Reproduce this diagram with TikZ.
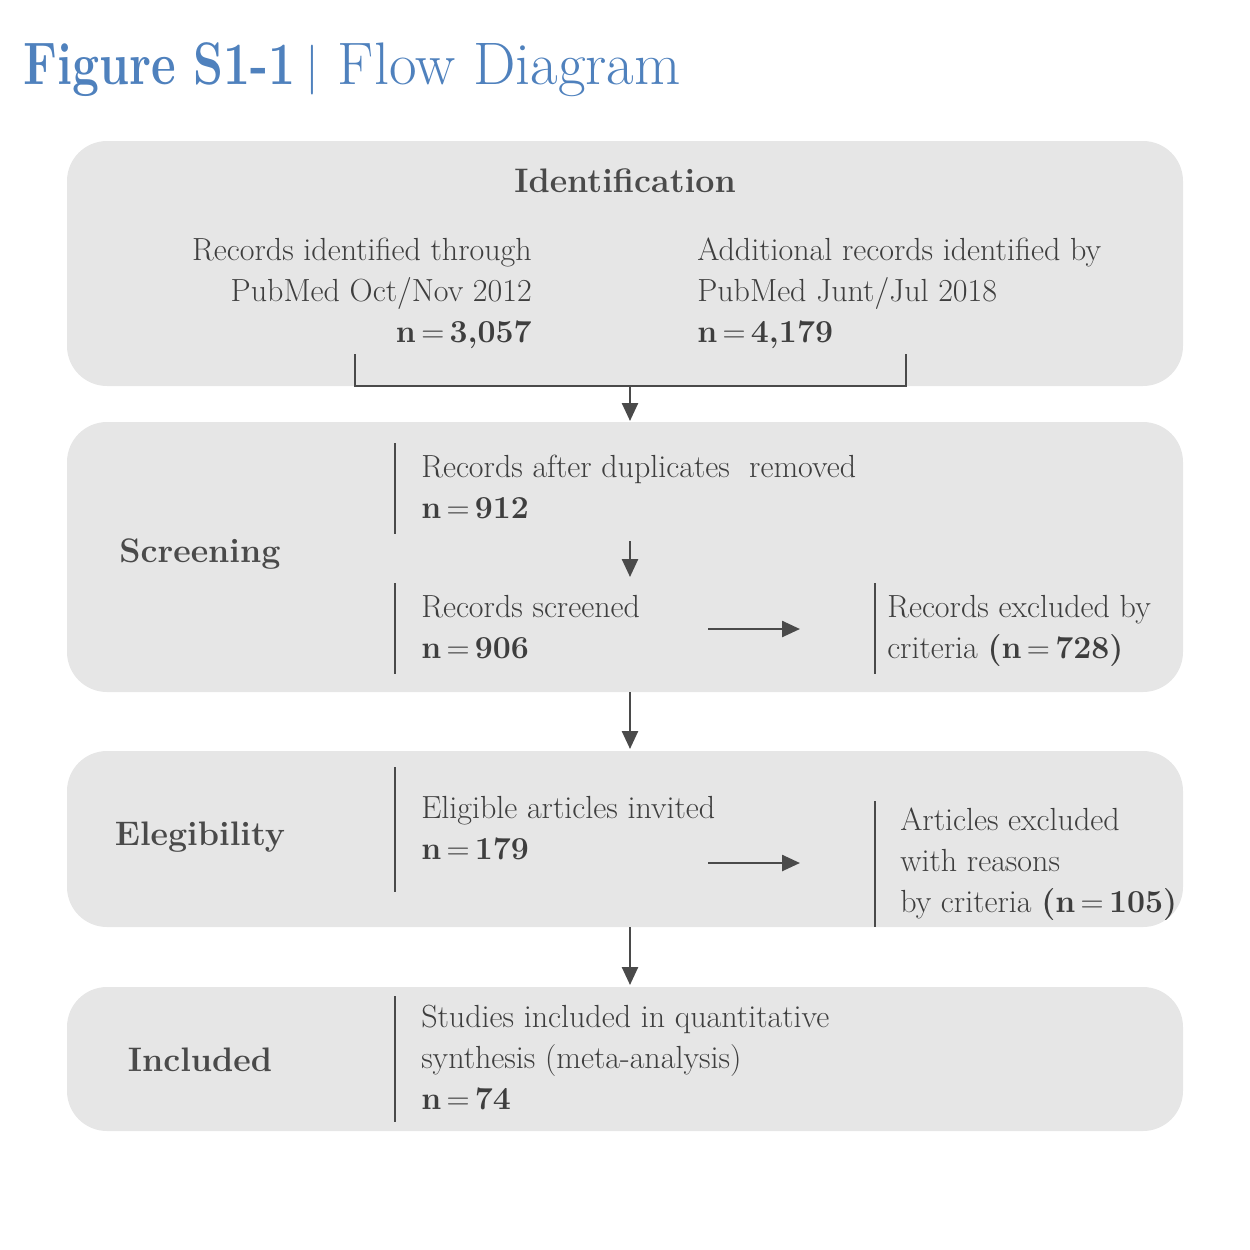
\documentclass[tikz,border=0pt]{standalone}
\usetikzlibrary{arrows.meta}
\definecolor{titleblue}{RGB}{79,129,189}
\definecolor{boxgray}{RGB}{230,230,230}
\definecolor{inkgray}{RGB}{74,74,74}
\definecolor{textgray}{RGB}{62,62,62}
\tikzset{every picture/.style={line width=1.25pt}}

\begin{document}
\begin{tikzpicture}[x=0.5pt,y=0.5pt,yscale=-1,xscale=1,
  stage/.style={fill=boxgray,rounded corners=20pt},
  stagename/.style={font=\fontsize{17}{20}\selectfont\bfseries,text=inkgray},
  entry/.style={font=\fontsize{16}{20.5}\selectfont,text=textgray,inner sep=0pt,align=left},
  flow/.style={draw=inkgray,-{Triangle[length=9pt,width=8pt]}},
  rule/.style={draw=inkgray}]
\useasboundingbox (0,0) rectangle (1250,1250);

%Shape: Rounded Rect [id:identification]
\path[stage] (67,141) rectangle (1183,386);
%Shape: Rounded Rect [id:screening]
\path[stage] (67,422) rectangle (1183,692);
%Shape: Rounded Rect [id:eligibility]
\path[stage] (67,751) rectangle (1183,927);
%Shape: Rounded Rect [id:included]
\path[stage] (67,987) rectangle (1183,1131);

% Title
\node[anchor=base west,inner sep=0pt,text=titleblue,font=\fontsize{30}{34}\selectfont] (title) at (22,84) {\scalebox{0.8}[1]{\bfseries Figure S1-1}\,\raisebox{1pt}{$|$}\ Flow Diagram};

% Text Node
\node[stagename] (identhead) at (625,181) {Identification};
% Text Node
\node[stagename] (screenhead) at (200,554) {Screening};
% Text Node
\node[stagename] (eligiblehead) at (200,837) {Elegibility};
% Text Node
\node[stagename] (includedhead) at (200,1060) {Included};

% Text Node
\node[entry,anchor=north east,align=right] (pubmedA) at (533,237) {Records identified through\\PubMed Oct/Nov 2012\\\textbf{n}\,=\,\textbf{3,057}};
% Text Node
\node[entry,anchor=north west] (pubmedB) at (696,237) {Additional records identified by\\PubMed Junt/Jul 2018\\\textbf{n}\,=\,\textbf{4,179}};
% Text Node
\node[entry,anchor=north west] (dedup) at (420,454) {Records after duplicates\ \ removed\\\textbf{n}\,=\,\textbf{912}};
% Text Node
\node[entry,anchor=north west] (screened) at (420,594) {Records screened\\\textbf{n}\,=\,\textbf{906}};
% Text Node
\node[entry,anchor=north west] (excluded) at (886,594) {Records excluded by\\criteria \textbf{(n}\,=\,\textbf{728)}};
% Text Node
\node[entry,anchor=north west] (invited) at (420,795) {Eligible articles invited\\\textbf{n}\,=\,\textbf{179}};
% Text Node
\node[entry,anchor=north west] (reasons) at (899,807) {Articles excluded\\with reasons\\by criteria \textbf{(n}\,=\,\textbf{105)}};
% Text Node
\node[entry,anchor=north west] (studies) at (420,1004) {Studies included in quantitative\\synthesis (meta-analysis)\\\textbf{n}\,=\,\textbf{74}};

% Side rules
\draw[rule] (395,443) -- (395,534);
\draw[rule] (395,583) -- (395,674);
\draw[rule] (875,583) -- (875,674);
\draw[rule] (395,767) -- (395,892);
\draw[rule] (875,801) -- (875,927);
\draw[rule] (395,996) -- (395,1122);

% Bracket joining both searches
\coordinate (joinL) at (355,354);
\coordinate (joinR) at (906,354);
\coordinate (join) at (630,386);
\draw[rule] (joinL) -- (joinL |- join) -- (joinR |- join) -- (joinR);

%Arrows
\coordinate (dedupIn) at (630,421);
\coordinate (dupOut) at (630,541);
\coordinate (screenIn) at (630,577);
\coordinate (screenOut) at (630,692);
\coordinate (eligIn) at (630,749);
\coordinate (eligOut) at (630,927);
\coordinate (inclIn) at (630,985);
\coordinate (exclA) at (708,629);
\coordinate (exclAend) at (800,629);
\coordinate (exclB) at (708,863);
\coordinate (exclBend) at (800,863);
\draw[flow] (join) -- (dedupIn);
\draw[flow] (dupOut) -- (screenIn);
\draw[flow] (screenOut) -- (eligIn);
\draw[flow] (eligOut) -- (inclIn);
\draw[flow] (exclA) -- (exclAend);
\draw[flow] (exclB) -- (exclBend);

\end{tikzpicture}
\end{document}
